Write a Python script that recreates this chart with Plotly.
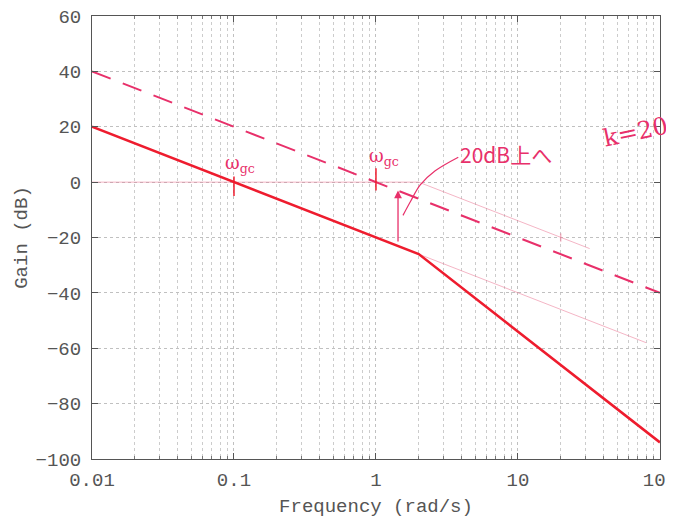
import numpy as np
import plotly.graph_objects as go

# ---- data ----
solid_freq = [0.01, 2, 100]
solid_gain = [20, -26, -94]

dashed_freq = [0.01, 100]
dashed_gain = [40, -40]

zero_freq = [0.01, 2]
zero_gain = [0, 0]

upper_thin_freq = [2, 32]
upper_thin_gain = [0, -24]

lower_thin_freq = [2, 80]
lower_thin_gain = [-26, -58]

wgc_freq = [0.1, 1]
wgc_tick_lo = [-5, -3]
wgc_tick_hi = [2, 5]

arrow_freq = 1.43
arrow_from = -22
arrow_to = -3

curve_freq = [1.55, 1.75, 2.05, 2.6, 3.8]
curve_gain = [-12, -7, -1, 4, 9]

x_tickvals = [0.01, 0.1, 1, 10, 100]
x_ticktext = ["0.01", "0.1", "1", "10", "100"]
x_minorvals = [m * d for d in [0.01, 0.1, 1, 10] for m in range(2, 10)]
y_tickvals = [-100, -80, -60, -40, -20, 0, 20, 40, 60]

RED = "#ee1c2e"
PINK = "#e8306a"
THIN = "rgba(235,120,150,0.55)"

fig = go.Figure()

fig.add_trace(go.Scatter(x=zero_freq, y=zero_gain, mode="lines",
                         line=dict(color=THIN, width=1)))
fig.add_trace(go.Scatter(x=upper_thin_freq, y=upper_thin_gain, mode="lines",
                         line=dict(color=THIN, width=1)))
fig.add_trace(go.Scatter(x=lower_thin_freq, y=lower_thin_gain, mode="lines",
                         line=dict(color=THIN, width=1)))
fig.add_trace(go.Scatter(x=dashed_freq, y=dashed_gain, mode="lines",
                         line=dict(color=PINK, width=2, dash="20px,13px")))
fig.add_trace(go.Scatter(x=solid_freq, y=solid_gain, mode="lines",
                         line=dict(color=RED, width=2.5)))

# wgc tick marks
for f, lo, hi in zip(wgc_freq, wgc_tick_lo, wgc_tick_hi):
    fig.add_trace(go.Scatter(x=[f, f], y=[lo, hi], mode="lines",
                             line=dict(color=RED, width=1.5)))

# small marks at 20 rad/s
fig.add_trace(go.Scatter(x=[20, 20], y=[-18.5, -21.5], mode="lines",
                         line=dict(color=THIN, width=1.5)))

# connector curve
fig.add_trace(go.Scatter(x=curve_freq, y=curve_gain, mode="lines",
                         line=dict(color=PINK, width=1.2, shape="spline")))

lx = np.log10

annotations = [
    dict(x=lx(arrow_freq), y=arrow_to, ax=lx(arrow_freq), ay=arrow_from,
         xref="x", yref="y", axref="x", ayref="y", text="", showarrow=True,
         arrowhead=2, arrowsize=1.2, arrowwidth=1.3, arrowcolor=PINK),
    dict(x=lx(0.1) + 0.045, y=6.5, xref="x", yref="y", text="ω<sub>gc</sub>", showarrow=False,
         font=dict(family="DejaVu Serif", size=18, color=PINK), xanchor="center"),
    dict(x=lx(1) + 0.055, y=9, xref="x", yref="y", text="ω<sub>gc</sub>", showarrow=False,
         font=dict(family="DejaVu Serif", size=18, color=PINK), xanchor="center"),
    dict(x=lx(3.8), y=10, xref="x", yref="y", text="20dB上へ", showarrow=False,
         font=dict(family="Noto Sans CJK JP", size=21, color=PINK), xanchor="left"),
    dict(x=lx(37), y=18, xref="x", yref="y", text="k=20", showarrow=False,
         font=dict(family="DejaVu Serif", size=24, color=PINK), xanchor="left",
         textangle=-12),
]

axis_font = dict(family="Liberation Mono, Courier New, monospace", size=19, color="#555")

fig.update_layout(
    width=674, height=519,
    margin=dict(l=84, r=22, t=8, b=68),
    paper_bgcolor="white", plot_bgcolor="white",
    showlegend=False,
    annotations=annotations,
    font=axis_font,
)

fig.update_xaxes(
    type="log", range=[-2, 2.0005],
    tickvals=x_tickvals, ticktext=x_ticktext,
    showline=True, linecolor="#555", linewidth=1, mirror="ticks",
    ticks="inside", ticklen=6, tickcolor="#555",
    showgrid=True, gridcolor="#c0c0c0", griddash="dot", gridwidth=1,
    minor=dict(tickvals=x_minorvals, ticks="inside", ticklen=3, tickcolor="#777",
               showgrid=True, gridcolor="#cccccc", griddash="dot", gridwidth=1),
    title=dict(text="Frequency (rad/s)", font=dict(size=19, color="#555"), standoff=7),
    tickfont=axis_font, ticklabelstandoff=3, ticklabeloverflow="allow",
    zeroline=False, automargin=False,
)
fig.update_yaxes(
    range=[-100, 60],
    tickvals=y_tickvals,
    showline=True, linecolor="#555", linewidth=1, mirror="ticks",
    ticks="inside", ticklen=6, tickcolor="#555",
    showgrid=True, gridcolor="#c0c0c0", griddash="dot", gridwidth=1,
    title=dict(text="Gain (dB)", font=dict(size=19, color="#555"), standoff=2),
    tickfont=axis_font, ticklabelstandoff=6, ticklabeloverflow="allow",
    zeroline=False, automargin=False,
)

fig.write_html("out.html")
